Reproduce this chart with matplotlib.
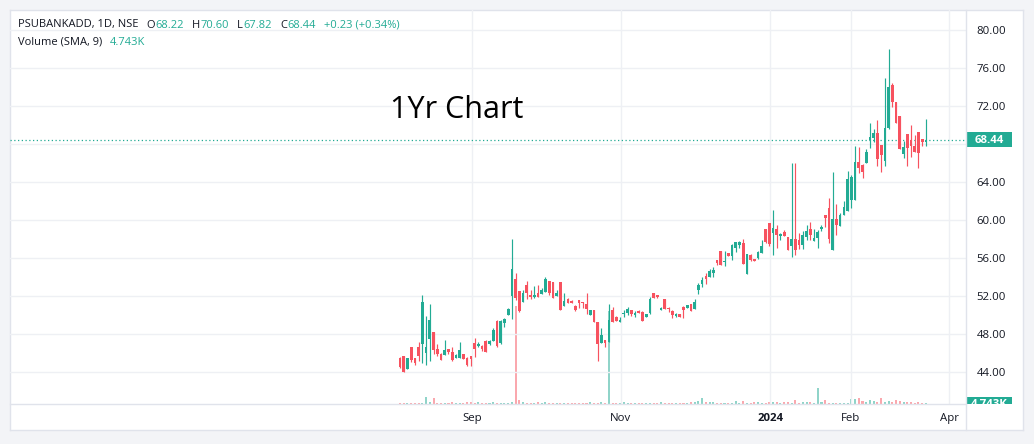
import matplotlib
matplotlib.use("Agg")
import matplotlib.pyplot as plt
from matplotlib.patches import Rectangle
from matplotlib.lines import Line2D

# ---------------- data (daily candles, PSUBANKADD, NSE) ----------------
opens = [45.51, 45.68, 44.35, 46.63, 45.47, 46.63, 46.91, 46.04, 47.47, 48.21,
         46.42, 45.89, 45.79, 46.42, 46.11, 45.47, 45.51, 45.89, 45.51, 45.68,
         47.05, 46.74, 46.77, 47.26, 46.95, 47.26, 49.37, 47.02, 49.16, 50.04,
         52.04, 53.79, 52.49, 51.40, 53.16, 52.14, 51.93, 52.35, 52.21, 52.42,
         53.54, 53.47, 52.04, 53.47, 50.98, 51.68, 51.47, 50.98, 51.54, 51.37,
         51.19, 50.00, 50.49, 49.30, 47.09, 47.37, 47.19, 50.53, 49.75, 49.30,
         50.07, 50.18, 50.53, 50.00, 50.46, 50.35, 49.83, 50.25, 52.28, 52.07,
         50.49, 51.68, 50.70, 50.46, 49.89, 50.07, 50.84, 50.70, 51.12, 50.67,
         52.67, 53.23, 54.11, 53.96, 54.46, 55.79, 56.74, 55.61, 56.53, 56.25,
         57.09, 57.37, 57.54, 54.35, 56.32, 55.89, 55.96, 56.56, 59.05, 59.65,
         58.67, 59.02, 58.32, 58.70, 58.21, 57.30, 57.96, 57.89, 57.40, 58.18,
         59.05, 57.79, 58.14, 59.05, 60.53, 61.26, 56.84, 60.11, 59.40, 60.53,
         60.98, 62.11, 62.11, 66.11, 65.79, 66.04, 68.39, 68.67, 69.16, 67.86,
         66.25, 69.68, 74.21, 72.42, 70.95, 66.95, 69.05, 68.42, 67.79, 69.26,
         68.53, 68.22]
highs = [45.61, 45.70, 45.50, 46.65, 45.50, 47.12, 52.11, 49.89, 51.16, 48.25,
         46.95, 45.95, 47.37, 46.45, 46.63, 45.85, 47.16, 45.90, 45.55, 45.70,
         47.58, 47.16, 46.80, 47.37, 47.37, 48.63, 49.47, 49.47, 49.65, 50.74,
         58.00, 54.39, 52.50, 52.63, 53.61, 52.63, 53.05, 53.16, 52.88, 54.04,
         53.55, 53.50, 52.63, 53.50, 52.28, 51.79, 51.58, 51.05, 51.55, 51.40,
         52.28, 50.50, 50.50, 49.30, 48.60, 47.40, 51.16, 50.81, 49.90, 49.75,
         50.53, 50.81, 50.55, 50.46, 50.53, 50.40, 50.10, 51.93, 52.30, 52.10,
         50.88, 51.70, 50.88, 50.50, 50.18, 50.10, 50.90, 51.05, 51.15, 51.68,
         53.33, 53.96, 54.42, 54.84, 55.09, 55.80, 56.75, 56.74, 56.55, 57.47,
         57.72, 57.82, 58.00, 56.40, 56.39, 55.90, 56.74, 57.89, 59.10, 59.65,
         61.05, 59.51, 58.67, 58.95, 58.25, 66.04, 66.04, 58.67, 58.88, 59.47,
         59.79, 59.02, 58.95, 59.44, 60.55, 62.32, 65.05, 61.68, 60.70, 62.04,
         65.16, 64.77, 67.79, 67.68, 65.89, 67.47, 70.18, 69.58, 70.49, 67.90,
         74.95, 78.00, 74.39, 72.45, 70.95, 68.32, 69.05, 70.00, 68.95, 69.26,
         68.53, 70.60]
lows = [44.39, 44.02, 44.35, 45.09, 44.77, 45.19, 44.91, 44.77, 45.16, 45.89,
        45.72, 45.25, 45.79, 45.89, 45.19, 45.45, 45.50, 45.35, 44.63, 44.63,
        45.58, 46.63, 46.25, 46.11, 46.84, 47.26, 46.67, 46.95, 48.74, 50.04,
        49.58, 51.58, 50.35, 51.40, 51.65, 51.65, 51.75, 51.93, 52.21, 52.42,
        52.07, 51.75, 52.04, 50.56, 50.98, 51.30, 51.23, 50.46, 50.70, 50.70,
        50.14, 50.00, 49.30, 45.19, 47.09, 46.67, 47.19, 49.30, 49.40, 49.30,
        49.83, 50.00, 49.90, 49.83, 50.25, 49.40, 49.83, 50.11, 51.80, 51.80,
        50.49, 50.60, 50.35, 49.72, 49.82, 49.80, 49.72, 50.70, 50.40, 50.60,
        52.18, 52.98, 53.30, 53.96, 54.00, 55.30, 55.30, 55.16, 56.25, 55.79,
        56.67, 57.02, 55.40, 54.35, 55.72, 55.70, 55.89, 56.56, 57.54, 57.30,
        56.32, 57.02, 57.89, 58.35, 56.84, 56.14, 56.32, 56.95, 56.95, 57.89,
        57.89, 57.79, 57.09, 58.88, 59.30, 57.61, 56.84, 58.42, 59.40, 60.53,
        60.98, 61.23, 62.11, 64.98, 64.46, 66.04, 67.61, 68.25, 65.68, 65.09,
        65.68, 69.54, 71.93, 70.25, 67.44, 66.49, 65.68, 66.67, 67.16, 65.51,
        67.79, 67.82]
closes = [44.56, 44.04, 45.47, 45.26, 44.91, 45.68, 51.37, 46.63, 49.47, 46.35,
          45.86, 45.30, 46.28, 46.14, 45.26, 45.79, 46.32, 45.40, 44.74, 45.37,
          46.42, 46.95, 46.42, 46.14, 47.26, 48.42, 46.74, 49.37, 49.61, 50.63,
          54.84, 51.75, 50.46, 52.35, 52.35, 51.93, 52.14, 51.93, 52.63, 53.82,
          52.28, 51.75, 52.35, 50.56, 51.47, 51.30, 51.23, 50.56, 51.30, 51.23,
          50.67, 50.49, 49.30, 46.98, 47.86, 47.09, 49.47, 49.30, 49.40, 49.51,
          50.14, 50.60, 50.07, 50.18, 50.25, 49.40, 50.07, 51.65, 51.82, 51.86,
          50.77, 50.60, 50.60, 50.00, 50.07, 49.82, 50.49, 51.02, 50.42, 51.40,
          53.16, 53.68, 53.79, 54.67, 54.74, 55.51, 55.30, 55.68, 56.25, 57.37,
          57.65, 57.72, 55.40, 56.39, 55.79, 55.72, 56.63, 57.30, 57.65, 57.47,
          59.16, 58.42, 58.56, 58.35, 56.84, 57.96, 56.84, 57.40, 58.42, 58.84,
          58.42, 58.07, 58.74, 59.30, 60.25, 58.04, 60.11, 59.44, 60.53, 61.33,
          64.32, 64.56, 66.11, 65.51, 65.09, 67.16, 68.74, 69.16, 66.46, 66.88,
          69.68, 74.00, 72.46, 70.25, 67.51, 67.65, 67.61, 67.79, 67.16, 67.09,
          68.21, 68.44]
# volume in thousands of shares
volumes_k = [2.0, 2.0, 2.0, 2.0, 2.0, 2.0, 2.0, 17.0, 4.5, 14.0,
             2.0, 2.0, 2.0, 2.0, 4.5, 2.0, 2.0, 2.0, 4.5, 4.5,
             2.0, 4.5, 2.0, 2.0, 2.0, 4.5, 2.0, 2.0, 2.0, 2.0,
             4.5, 235.0, 9.5, 4.5, 2.0, 2.0, 2.0, 4.5, 2.0, 4.5,
             2.0, 2.0, 2.0, 2.0, 2.0, 2.0, 2.0, 2.0, 2.0, 2.0,
             2.0, 4.5, 2.0, 2.0, 4.5, 2.0, 223.0, 2.0, 2.0, 2.0,
             4.5, 2.0, 2.0, 2.0, 2.0, 2.0, 2.0, 2.0, 2.0, 2.0,
             4.5, 2.0, 2.0, 2.0, 2.0, 2.0, 2.0, 2.0, 4.5, 4.5,
             7.0, 14.0, 4.5, 4.5, 4.5, 2.0, 2.0, 2.0, 2.0, 2.0,
             7.0, 2.0, 7.0, 2.0, 2.0, 4.5, 4.5, 2.0, 2.0, 4.5,
             4.5, 4.5, 2.0, 4.5, 4.5, 2.0, 9.5, 2.0, 4.5, 4.5,
             4.5, 2.0, 38.0, 4.5, 9.5, 2.0, 2.0, 2.0, 2.0, 2.0,
             2.0, 12.0, 12.0, 14.0, 7.0, 4.5, 9.5, 7.0, 4.5, 14.0,
             4.5, 7.0, 4.5, 10.5, 7.0, 4.5, 4.5, 4.5, 2.0, 4.5,
             2.0, 3.0]

price_ticks = [44, 48, 52, 56, 60, 64, 72, 76, 80]
time_tick_pos = [19.3, 59.2, 99.2, 120.9, 147.2]   # bar-index positions of month starts
time_tick_labels = ["Sep", "Nov", "2024", "Feb", "Apr"]
last_price = 68.44
vol_sma_text = "4.743K"

# legend line 1: groups of (label, value)
header_groups = [("PSUBANKADD, 1D, NSE", ""), ("O", "68.22"), ("H", "70.60"),
                 ("L", "67.82"), ("C", "68.44"), ("", "+0.23 (+0.34%)")]

# ---------------- styling ----------------
UP = "#22ab94"
DOWN = "#f7525f"
DARK = "#131722"
GRID = "#eef0f4"
BORDER = "#e0e3eb"
FONT = ["Open Sans", "DejaVu Sans"]
plt.rcParams["font.family"] = FONT

W, H = 1034, 444
fig = plt.figure(figsize=(W / 100, H / 100), dpi=100)
fig.patch.set_facecolor("#f3f4f7")
renderer = fig.canvas.get_renderer()


def rect(x0, y0, x1, y1):
    return [x0 / W, 1 - y1 / H, (x1 - x0) / W, (y1 - y0) / H]


FL, FT, FR, FB = 10, 10, 1023, 430     # outer frame
PR, PB = 966, 404                      # plot area right / bottom

# white panel
bg = fig.add_axes(rect(FL, FT, FR, FB))
bg.set_facecolor("white")
bg.set_xticks([]); bg.set_yticks([])
for s in bg.spines.values():
    s.set_color(BORDER)
    s.set_linewidth(1)

# x/y mapping
x0_px, dx_px = 400.0, 3.73
xlim = ((FL - x0_px) / dx_px, (PR - x0_px) / dx_px)
ylim = (56 - (PB - 258) / 9.5, 56 + (258 - FT) / 9.5)

ax_v = fig.add_axes(rect(FL, FT, PR, PB))
ax_v.set_facecolor("none")
ax = fig.add_axes(rect(FL, FT, PR, PB))
ax.set_facecolor("none")
for a in (ax_v, ax):
    a.set_xlim(*xlim)
    for s in a.spines.values():
        s.set_visible(False)
ax.set_ylim(*ylim)
ax_v.set_ylim(0, (PB - FT) * 2.4)
ax_v.set_xticks([]); ax_v.set_yticks([])

n = len(opens)
xs = list(range(n))
up = [c >= o for o, c in zip(opens, closes)]
cols = [UP if u else DOWN for u in up]

# grid
for p in price_ticks + [68]:
    ax.axhline(p, color=GRID, lw=1, zorder=0)
for t in time_tick_pos:
    ax.axvline(t, color=GRID, lw=1, zorder=0)

# volume
ax_v.bar(xs, volumes_k, width=0.55, color=cols, alpha=0.5, linewidth=0)

# candles
ax.vlines(xs, lows, highs, colors=cols, linewidth=0.85, zorder=2)
bottoms = [min(o, c) for o, c in zip(opens, closes)]
heights = [max(abs(c - o), 0.09) for o, c in zip(opens, closes)]
ax.bar(xs, heights, bottom=bottoms, width=0.72, color=cols, linewidth=0, zorder=3)

# last price line
ax.axhline(last_price, color=UP, lw=0.9, linestyle=(0, (1, 2)), zorder=1)

# axes ticks
ax.yaxis.tick_right()
ax.set_yticks(price_ticks)
ax.set_yticklabels([f"{v:.2f}" for v in price_ticks])
ax.tick_params(axis="y", length=0, pad=7.5, labelsize=8.2, labelcolor=DARK)
ax.set_xticks(time_tick_pos)
ax.set_xticklabels(time_tick_labels)
ax.tick_params(axis="x", length=0, pad=6.5, labelsize=8.2, labelcolor=DARK)
for lbl in ax.get_xticklabels():
    if lbl.get_text() == "2024":
        lbl.set_fontweight("bold")

# separators
fig.add_artist(Line2D([PR / W, PR / W], [1 - FB / H, 1 - FT / H], color=BORDER, lw=1))
fig.add_artist(Line2D([FL / W, PR / W], [1 - PB / H, 1 - PB / H], color=BORDER, lw=1))

# price-scale labels (last price + volume SMA)
pax = fig.add_axes(rect(PR, FT, FR, PB))
pax.set_xlim(0, FR - PR); pax.set_ylim(PB - FT, 0)
pax.axis("off")
pax.set_facecolor("none")
yl = 258 + (56 - last_price) * 9.5 - FT
pax.add_patch(Rectangle((1, yl - 7.5), 45, 15, color=UP, lw=0))
pax.text(23.5, yl + 0.5, f"{last_price:.2f}", color="white", fontsize=8.2,
         ha="center", va="center", fontweight="bold")
vy = PB - FT
pax.add_patch(Rectangle((1, vy - 7), 45, 15, color=UP, lw=0, clip_on=True))
pax.text(23.5, vy + 0.5, vol_sma_text, color="white", fontsize=8.2,
         ha="center", va="center", fontweight="bold", clip_on=True)

# header legend, laid out piece by piece
cmap = {"dark": DARK, "green": UP}
HFS = 8.0


def put(xp, yp, txt, color):
    t = fig.text(xp / W, 1 - yp / H, txt, color=color, fontsize=HFS, ha="left", va="center")
    return xp + t.get_window_extent(renderer).width


xp = 18.0
for lab, val in header_groups:
    if lab:
        xp = put(xp, 25, lab, DARK)
    if val:
        xp = put(xp + (0.5 if lab else 0), 25, val, UP)
    xp += 8
xp = put(18.0, 42.5, "Volume (SMA, 9)", DARK)
put(xp + 8, 42.5, vol_sma_text, UP)

# chart title text
fig.text(390 / W, 1 - 110 / H, "1Yr Chart", color="#000000", fontsize=22, ha="left", va="center")

fig.savefig("out.png", dpi=100, facecolor=fig.get_facecolor())
